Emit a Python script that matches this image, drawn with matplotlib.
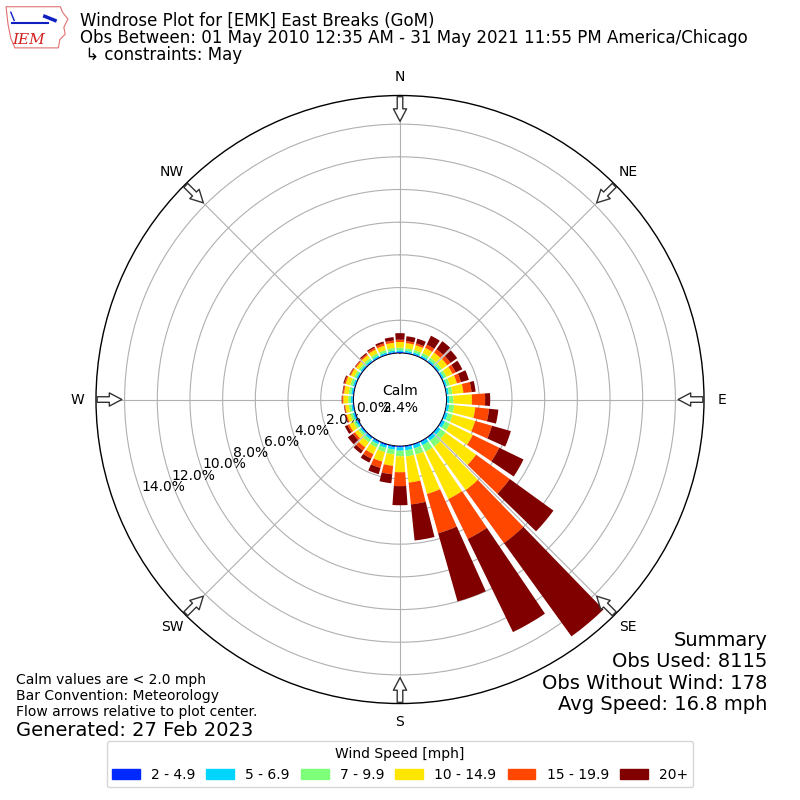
import numpy as np
import matplotlib
matplotlib.use("Agg")
import matplotlib.pyplot as plt
from matplotlib.patches import Rectangle, Polygon

# direction bins (deg, meteorological) and percent of obs per speed bin
directions = np.arange(0, 360, 10)
speed_labels = ["2 - 4.9", "5 - 6.9", "7 - 9.9", "10 - 14.9", "15 - 19.9", "20+"]

spd_2_5 = [0.06, 0.05, 0.05, 0.05, 0.05, 0.05, 0.05, 0.04, 0.03, 0.02, 0.03, 0.04,
           0.05, 0.05, 0.06, 0.06, 0.06, 0.07, 0.08, 0.08, 0.08, 0.07, 0.07, 0.06,
           0.06, 0.06, 0.05, 0.05, 0.05, 0.05, 0.05, 0.05, 0.05, 0.05, 0.05, 0.06]
spd_5_7 = [0.10, 0.10, 0.10, 0.10, 0.10, 0.10, 0.10, 0.10, 0.12, 0.15, 0.15, 0.16,
           0.17, 0.18, 0.20, 0.20, 0.20, 0.20, 0.20, 0.15, 0.15, 0.13, 0.12, 0.10,
           0.10, 0.10, 0.10, 0.10, 0.10, 0.10, 0.09, 0.09, 0.09, 0.10, 0.10, 0.10]
spd_7_10 = [0.16, 0.15, 0.15, 0.17, 0.17, 0.17, 0.17, 0.18, 0.22, 0.25, 0.30, 0.30,
            0.33, 0.37, 0.44, 0.44, 0.40, 0.38, 0.35, 0.30, 0.27, 0.22, 0.20, 0.15,
            0.15, 0.15, 0.15, 0.17, 0.16, 0.16, 0.14, 0.13, 0.14, 0.15, 0.15, 0.16]
spd_10_15 = [0.35, 0.32, 0.30, 0.35, 0.38, 0.40, 0.40, 0.45, 0.68, 1.13, 1.30, 1.43,
             1.55, 2.30, 3.30, 3.22, 2.50, 1.61, 0.97, 0.70, 0.60, 0.45, 0.38, 0.25,
             0.30, 0.22, 0.22, 0.30, 0.28, 0.30, 0.22, 0.20, 0.22, 0.25, 0.28, 0.32]
spd_15_20 = [0.14, 0.12, 0.12, 0.22, 0.25, 0.25, 0.22, 0.26, 0.50, 0.81, 0.85, 1.07,
             1.80, 2.54, 4.00, 2.71, 2.50, 1.34, 0.85, 0.52, 0.40, 0.30, 0.24, 0.15,
             0.12, 0.07, 0.05, 0.07, 0.07, 0.08, 0.07, 0.07, 0.09, 0.12, 0.14, 0.14]
spd_20 = [0.40, 0.30, 0.30, 0.60, 0.61, 0.50, 0.45, 0.50, 0.25, 0.31, 0.57, 1.20,
          1.65, 3.30, 7.04, 6.34, 4.34, 2.22, 1.17, 0.55, 0.40, 0.27, 0.22, 0.38,
          0.17, 0.05, 0.03, 0.03, 0.04, 0.07, 0.03, 0.03, 0.08, 0.08, 0.12, 0.21]
speed_bins = [spd_2_5, spd_5_7, spd_7_10, spd_10_15, spd_15_20, spd_20]

compass = ["N", "NE", "E", "SE", "S", "SW", "W", "NW"]
calm_pct = 2.4

colors = plt.cm.jet(np.arange(1, 7) / 6.0)

fig = plt.figure(figsize=(8, 8), dpi=100)
ax = fig.add_axes([0.12, 0.1206, 0.76, 0.76], projection="polar")
ax.set_theta_zero_location("N")
ax.set_theta_direction(-1)

theta = np.deg2rad(directions)
width = np.deg2rad(10) * 0.82
base = np.zeros(len(directions))
for vals, c, lbl in zip(speed_bins, colors, speed_labels):
    vals = np.array(vals)
    ax.bar(theta, vals, width=width, bottom=base, color=c, label=lbl,
           linewidth=0, zorder=3)
    base = base + vals

rmax = 15.75
ax.set_ylim(0, rmax)
ax.set_rorigin(-2.85)
ax.set_yticks(np.arange(0, 15, 2))
ax.set_yticklabels(["%.1f%%" % v for v in np.arange(0, 15, 2)], fontsize=10)
ax.set_rlabel_position(250)
ax.set_xticks(np.deg2rad(np.arange(0, 360, 45)))
ax.set_xticklabels(compass, fontsize=10)
ax.tick_params(axis="x", pad=2.7)
ax.grid(True, color="#b0b0b0", linewidth=0.8, zorder=1)
ax.spines["polar"].set_linewidth(1.0)

# flow arrows at the rim
for ang in np.arange(0, 360, 45):
    ax.annotate("", xy=(np.deg2rad(ang), 14.0), xytext=(np.deg2rad(ang), rmax + 0.1),
                arrowprops=dict(arrowstyle="simple,head_length=0.9,head_width=0.95,tail_width=0.4",
                                fc="white", ec="#333333", lw=1.0),
                annotation_clip=False, zorder=5)

ax.text(0.5, 0.5, "Calm\n%.1f%%" % calm_pct, transform=ax.transAxes,
        ha="center", va="center", fontsize=10, zorder=6)

# header
fig.text(0.1, 0.974, "Windrose Plot for [EMK] East Breaks (GoM)", fontsize=12, va="center")
fig.text(0.1, 0.953, "Obs Between: 01 May 2010 12:35 AM - 31 May 2021 11:55 PM America/Chicago",
         fontsize=12, va="center")
fig.text(0.1, 0.931, " \u21b3 constraints: May", fontsize=12, va="center")

# rough IEM logo
lax = fig.add_axes([0.005, 0.935, 0.085, 0.06])
lax.set_xlim(0, 10)
lax.set_ylim(0, 7)
lax.axis("off")
outline = [(0.3, 6.6), (8.3, 6.6), (8.6, 5.8), (9.4, 4.8), (8.8, 3.6), (9.0, 2.6),
           (8.2, 1.8), (8.0, 0.6), (1.6, 0.6), (1.0, 2.0), (0.6, 4.0)]
lax.add_patch(Polygon(outline, closed=True, fill=False, ec="#e07070", lw=0.8))
lax.plot([1.2, 6.5], [4.3, 4.3], color="#1020c0", lw=1.5)
lax.plot([6.0, 7.5], [5.2, 4.6], color="#1020c0", lw=2.5)
lax.plot([1.0, 1.5], [5.8, 4.6], color="#1020c0", lw=1.0)
lax.text(1.2, 1.8, "IEM", color="#d02020", fontsize=11, family="DejaVu Serif",
         style="italic", va="center")

# footer notes
fig.text(0.02, 0.15, "Calm values are < 2.0 mph", fontsize=10, va="center")
fig.text(0.02, 0.13, "Bar Convention: Meteorology", fontsize=10, va="center")
fig.text(0.02, 0.11, "Flow arrows relative to plot center.", fontsize=10, va="center")
fig.text(0.02, 0.0875, "Generated: 27 Feb 2023", fontsize=14, va="center")

fig.text(0.959, 0.2, "Summary", fontsize=14, ha="right", va="center")
fig.text(0.959, 0.173, "Obs Used: 8115", fontsize=14, ha="right", va="center")
fig.text(0.959, 0.146, "Obs Without Wind: 178", fontsize=14, ha="right", va="center")
fig.text(0.959, 0.119, "Avg Speed: 16.8 mph", fontsize=14, ha="right", va="center")

handles = [Rectangle((0, 0), 1, 1, color=c) for c in colors]
fig.legend(handles, speed_labels, loc="lower center", bbox_to_anchor=(0.5, 0.007),
           ncol=6, title="Wind Speed [mph]", fontsize=10, title_fontsize=10,
           handlelength=2.0, columnspacing=0.8)

fig.savefig("out.png", dpi=100)
